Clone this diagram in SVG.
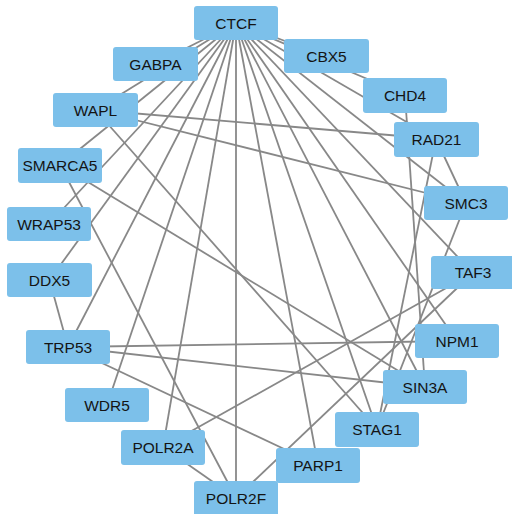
<svg xmlns="http://www.w3.org/2000/svg" width="512" height="514" viewBox="0 0 512 514">
<style>
.e{stroke:#888888;stroke-width:1.8;fill:none}
.n rect{fill:#7cc0ea;stroke:none}
.n text{font-family:"Liberation Sans",Arial,sans-serif;font-size:15.5px;fill:#141414;text-anchor:middle}
</style>
<rect width="512" height="514" fill="#ffffff"/>
<g id="edges">
<line class="e" x1="236" y1="23" x2="155" y2="64"/>
<line class="e" x1="236" y1="23" x2="95.5" y2="110"/>
<line class="e" x1="236" y1="23" x2="60" y2="165"/>
<line class="e" x1="236" y1="23" x2="49" y2="224"/>
<line class="e" x1="236" y1="23" x2="49.5" y2="280"/>
<line class="e" x1="236" y1="23" x2="68" y2="347"/>
<line class="e" x1="236" y1="23" x2="107" y2="405"/>
<line class="e" x1="236" y1="23" x2="163" y2="447"/>
<line class="e" x1="236" y1="23" x2="236" y2="498"/>
<line class="e" x1="236" y1="23" x2="318" y2="465"/>
<line class="e" x1="236" y1="23" x2="377" y2="429"/>
<line class="e" x1="236" y1="23" x2="425" y2="387"/>
<line class="e" x1="236" y1="23" x2="457" y2="341"/>
<line class="e" x1="236" y1="23" x2="473" y2="273"/>
<line class="e" x1="236" y1="23" x2="466" y2="203"/>
<line class="e" x1="236" y1="23" x2="436" y2="139"/>
<line class="e" x1="236" y1="23" x2="405" y2="95"/>
<line class="e" x1="236" y1="23" x2="326" y2="56"/>
<line class="e" x1="49.5" y1="280" x2="68" y2="347"/>
<line class="e" x1="68" y1="347" x2="457" y2="341"/>
<line class="e" x1="68" y1="347" x2="425" y2="387"/>
<line class="e" x1="68" y1="347" x2="318" y2="465"/>
<line class="e" x1="60" y1="165" x2="236" y2="498"/>
<line class="e" x1="60" y1="165" x2="425" y2="387"/>
<line class="e" x1="163" y1="447" x2="473" y2="273"/>
<line class="e" x1="163" y1="447" x2="236" y2="498"/>
<line class="e" x1="473" y1="273" x2="236" y2="498"/>
<line class="e" x1="95.5" y1="110" x2="436" y2="139"/>
<line class="e" x1="95.5" y1="110" x2="466" y2="203"/>
<line class="e" x1="95.5" y1="110" x2="377" y2="429"/>
<line class="e" x1="436" y1="139" x2="466" y2="203"/>
<line class="e" x1="436" y1="139" x2="377" y2="429"/>
<line class="e" x1="466" y1="203" x2="377" y2="429"/>
<line class="e" x1="405" y1="95" x2="425" y2="387"/>
</g>
<g id="CTCF" class="n"><rect x="194" y="6" width="84" height="34" rx="3"/><text x="236" y="28.5">CTCF</text></g>
<g id="GABPA" class="n"><rect x="113" y="47" width="85" height="34" rx="3"/><text x="155.5" y="69.5">GABPA</text></g>
<g id="WAPL" class="n"><rect x="53" y="93" width="85" height="34" rx="3"/><text x="95.5" y="115.5">WAPL</text></g>
<g id="SMARCA5" class="n"><rect x="18" y="148" width="84" height="35" rx="3"/><text x="60" y="171">SMARCA5</text></g>
<g id="WRAP53" class="n"><rect x="7" y="207" width="84" height="34" rx="3"/><text x="49" y="229.5">WRAP53</text></g>
<g id="DDX5" class="n"><rect x="7" y="263" width="85" height="34" rx="3"/><text x="49.5" y="285.5">DDX5</text></g>
<g id="TRP53" class="n"><rect x="26" y="330" width="84" height="34" rx="3"/><text x="68" y="352.5">TRP53</text></g>
<g id="WDR5" class="n"><rect x="65" y="388" width="84" height="34" rx="3"/><text x="107" y="410.5">WDR5</text></g>
<g id="POLR2A" class="n"><rect x="121" y="430" width="84" height="35" rx="3"/><text x="163" y="453">POLR2A</text></g>
<g id="POLR2F" class="n"><rect x="194" y="481" width="84" height="35" rx="3"/><text x="236" y="504">POLR2F</text></g>
<g id="PARP1" class="n"><rect x="276" y="448" width="84" height="35" rx="3"/><text x="318" y="471">PARP1</text></g>
<g id="STAG1" class="n"><rect x="335" y="412" width="84" height="35" rx="3"/><text x="377" y="435">STAG1</text></g>
<g id="SIN3A" class="n"><rect x="383" y="370" width="84" height="34" rx="3"/><text x="425" y="392.5">SIN3A</text></g>
<g id="NPM1" class="n"><rect x="415" y="324" width="84" height="34" rx="3"/><text x="457" y="346.5">NPM1</text></g>
<g id="TAF3" class="n"><rect x="431" y="256" width="84" height="33" rx="3"/><text x="473" y="278">TAF3</text></g>
<g id="SMC3" class="n"><rect x="424" y="186" width="84" height="34" rx="3"/><text x="466" y="208.5">SMC3</text></g>
<g id="RAD21" class="n"><rect x="394" y="122" width="85" height="35" rx="3"/><text x="436.5" y="145">RAD21</text></g>
<g id="CHD4" class="n"><rect x="363" y="78" width="84" height="35" rx="3"/><text x="405" y="101">CHD4</text></g>
<g id="CBX5" class="n"><rect x="284" y="39" width="85" height="34" rx="3"/><text x="326.5" y="61.5">CBX5</text></g>
</svg>
